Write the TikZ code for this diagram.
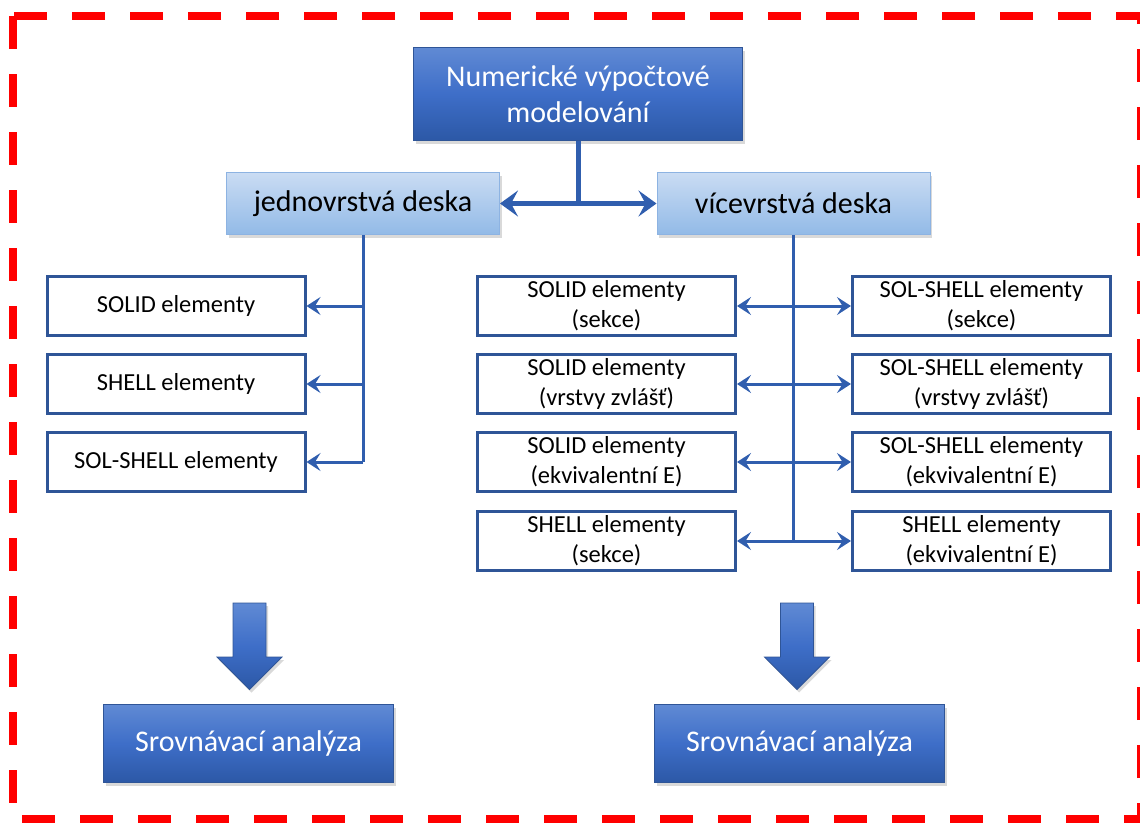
\documentclass[tikz,border=0pt]{standalone}
\usepackage{fontspec}
\setmainfont{Carlito}
\usetikzlibrary{positioning}
\usetikzlibrary{arrows.meta}
\usetikzlibrary{shadows}

\definecolor{tmava}{RGB}{47,85,151}
\definecolor{linka}{RGB}{48,94,174}
\definecolor{modraH}{RGB}{96,138,212}
\definecolor{modraS}{RGB}{62,110,200}
\definecolor{modraD}{RGB}{44,88,166}
\definecolor{svetlaH}{RGB}{202,220,243}
\definecolor{svetlaD}{RGB}{146,186,231}
\definecolor{svetlaR}{RGB}{141,179,226}

\begin{document}
\begin{tikzpicture} [
    x=1pt, y=-1pt,
    >={Stealth[length=14pt, width=18pt, inset=5.5pt]},
    stin/.style = {drop shadow={opacity=0.3, shadow xshift=2pt, shadow yshift=-3pt}},
    model/.style = {draw=tmava, line width=1pt, top color=modraH, bottom color=modraD, middle color=modraS, stin,
                    text=white, align=center, minimum width=329pt, minimum height=93pt, font=\fontsize{30pt}{36pt}\selectfont},
    deska/.style = {draw=svetlaR, line width=1pt, top color=svetlaH, bottom color=svetlaD, stin,
                    minimum width=273pt, minimum height=62pt, font=\fontsize{30pt}{36pt}\selectfont},
    elem/.style = {draw=tmava, line width=3pt, fill=white, text=black, align=center,
                   minimum width=258pt, minimum height=59pt, font=\fontsize{24.5pt}{30pt}\selectfont},
    analyza/.style = {model, minimum width=290pt, minimum height=78pt},
    velka/.style = {draw=tmava, line width=0.8pt, top color=modraH, bottom color=modraD, middle color=modraS, stin},
    spoj/.style = {draw=linka, line width=3pt}
    ]
    \useasboundingbox (0,0) rectangle (1140,822);
    \draw[red, line width=8pt, dash pattern=on 33pt off 25pt] (13,16) rectangle (1141,819);

    \node[model] (num) at (578,94) {Numerické výpočtové\\modelování};
    \node[deska] (jedn) at (363,203.5) {jednovrstvá deska};
    \node[deska] (vice) at (793.5,203.5) {vícevrstvá deska};

    \node[elem] (s1) at (176,306) {SOLID elementy};
    \node[elem, below=16pt of s1] (s2) {SHELL elementy};
    \node[elem, below=16pt of s2] (s3) {SOL-SHELL elementy};

    \node[elem] (m1) at (606.5,306) {SOLID elementy\\(sekce)};
    \node[elem, below=16pt of m1] (m2) {SOLID elementy\\(vrstvy zvlášť)};
    \node[elem, below=16pt of m2] (m3) {SOLID elementy\\(ekvivalentní E)};
    \node[elem, below=17pt of m3] (m4) {SHELL elementy\\(sekce)};

    \node[elem, right=114pt of m1] (r1) {SOL-SHELL elementy\\(sekce)};
    \node[elem, right=114pt of m2] (r2) {SOL-SHELL elementy\\(vrstvy zvlášť)};
    \node[elem, right=114pt of m3] (r3) {SOL-SHELL elementy\\(ekvivalentní E)};
    \node[elem, right=114pt of m4] (r4) {SHELL elementy\\(ekvivalentní E)};

    \node[analyza] (anL) at (248.5,743.5) {Srovnávací analýza};
    \node[analyza] (anR) at (799.5,743.5) {Srovnávací analýza};

    \path[velka] (233,603) -- (266,603) -- (266,657) -- (282,657) -- (249.5,689.5) -- (217,657) -- (233,657) -- cycle;
    \path[velka, xshift=547.5pt] (233,603) -- (266,603) -- (266,657) -- (282,657) -- (249.5,689.5) -- (217,657) -- (233,657) -- cycle;

    \draw[spoj, line width=5pt] (num.south) -- (num.south |- jedn.east);
    \draw[spoj, line width=5pt, >={Stealth[length=18pt, width=26pt, inset=7pt]}, <->] (jedn.east) -- (vice.west);

    \draw[spoj] (jedn.south) -- (jedn.south |- s3.east);
    \draw[spoj, ->] (jedn.south |- s1.east) -- (s1.east);
    \draw[spoj, ->] (jedn.south |- s2.east) -- (s2.east);
    \draw[spoj, ->] (jedn.south |- s3.east) -- (s3.east);

    \draw[spoj] (vice.south) -- (vice.south |- m4.east);
    \draw[spoj, <->] (m1.east) -- (r1.west);
    \draw[spoj, <->] (m2.east) -- (r2.west);
    \draw[spoj, <->] (m3.east) -- (r3.west);
    \draw[spoj, <->] (m4.east) -- (r4.west);
  \end{tikzpicture}
\end{document}
